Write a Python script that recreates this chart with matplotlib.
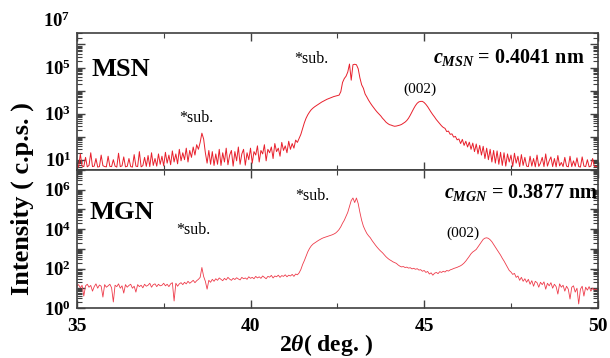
import numpy as np
import matplotlib
matplotlib.use('Agg')
import matplotlib.pyplot as plt
from matplotlib.ticker import MultipleLocator, LogLocator, FuncFormatter, NullFormatter
import matplotlib.transforms as mtrans

plt.rcParams['font.family'] = ['Liberation Serif', 'DejaVu Serif']
plt.rcParams['mathtext.fontset'] = 'custom'
plt.rcParams['mathtext.rm'] = 'Liberation Serif:bold'
plt.rcParams['mathtext.bf'] = 'Liberation Serif:bold'
plt.rcParams['mathtext.it'] = 'Liberation Serif:italic:bold'
plt.rcParams['mathtext.default'] = 'bf'

# 2theta grid (0.05 deg step) and log10 intensities
two_theta = np.round(np.arange(35.0, 50.0001, 0.05), 2)

msn_log = [
    0.70, 0.68, 1.25, 0.72, 0.70, 1.10, 0.69, 0.75, 1.30, 0.70, 0.72, 1.05, 0.68, 0.70, 1.20, 0.74, 0.70, 0.69, 1.15, 0.71,
    0.70, 1.00, 0.72, 0.68, 1.28, 0.70, 0.73, 1.12, 0.69, 0.71, 1.05, 0.70, 0.68, 1.22, 0.72, 0.70, 1.35, 0.69, 0.74, 1.10,
    0.71, 1.18, 0.70, 1.30, 0.75, 1.05, 0.72, 1.25, 0.80, 1.15, 0.73, 1.32, 0.85, 1.20, 0.78, 1.38, 0.90, 1.25, 0.82, 1.45,
    0.95, 1.30, 1.00, 1.50, 0.90, 1.40, 1.10, 1.55, 1.20, 1.65, 1.45, 1.75, 2.15, 1.90, 1.30, 0.85, 1.40, 0.80, 1.35, 0.75,
    1.25, 0.80, 1.45, 0.75, 1.30, 0.90, 1.50, 0.78, 1.20, 1.40, 0.72, 1.35, 0.95, 1.55, 0.80, 1.25, 1.45, 0.76, 1.30, 1.00,
    1.50, 0.85, 1.35, 1.20, 1.60, 0.90, 1.40, 1.25, 1.65, 0.95, 1.45, 1.30, 1.55, 1.05, 1.70, 1.35, 1.50, 1.15, 1.75, 1.40,
    1.60, 1.30, 1.80, 1.45, 1.70, 1.50, 1.85, 1.75, 1.92, 2.10, 2.35, 2.60, 2.80, 2.95, 3.07, 3.17, 3.24, 3.30, 3.35, 3.40,
    3.45, 3.50, 3.54, 3.58, 3.62, 3.65, 3.68, 3.71, 3.74, 3.76, 3.78, 3.80, 3.95, 4.35, 4.52, 4.62, 4.80, 5.15, 4.45, 5.12,
    5.14, 5.12, 4.95, 4.55, 4.25, 4.10, 3.85, 3.72, 3.58, 3.46, 3.35, 3.25, 3.15, 3.06, 2.98, 2.90, 2.80, 2.72, 2.63, 2.57,
    2.52, 2.50, 2.47, 2.45, 2.46, 2.48, 2.50, 2.53, 2.58, 2.63, 2.70, 2.80, 2.93, 3.08, 3.22, 3.35, 3.45, 3.51, 3.53, 3.53,
    3.48, 3.40, 3.30, 3.18, 3.06, 2.95, 2.85, 2.74, 2.65, 2.56, 2.47, 2.40, 2.36, 2.22, 2.24, 2.10, 2.12, 1.98, 2.01, 1.86,
    1.90, 1.70, 1.88, 1.62, 1.80, 1.55, 1.76, 1.45, 1.72, 1.35, 1.68, 1.25, 1.62, 1.20, 1.58, 1.05, 1.50, 1.00, 1.45, 0.90,
    1.40, 0.85, 1.38, 0.80, 1.32, 0.75, 1.30, 0.72, 1.25, 0.90, 1.20, 0.70, 1.28, 0.85, 1.15, 0.70, 1.22, 0.75, 1.10, 0.72,
    0.70, 1.15, 0.72, 1.05, 0.69, 1.20, 0.71, 0.85, 1.10, 0.70, 1.25, 0.72, 0.95, 1.12, 0.70, 1.05, 0.69, 1.18, 0.73, 0.88,
    0.70, 1.10, 0.72, 0.69, 1.15, 0.70, 0.95, 0.71, 1.08, 0.70, 0.68, 1.12, 0.72, 0.70, 1.00, 0.69, 0.72, 1.05, 0.70, 0.70,
    0.71,
]

mgn_log = [
    1.10, 1.18, 1.02, 1.15, 0.60, 1.12, 1.20, 1.05, 1.14, 0.85, 1.08, 1.22, 1.00, 1.16, 1.10, 0.55, 1.18, 1.05, 1.12, 1.20,
    1.02, 0.30, 1.15, 1.08, 1.22, 1.00, 1.12, 0.75, 1.18, 1.05, 1.14, 1.20, 1.00, 1.10, 0.80, 1.18, 1.08, 1.15, 1.02, 1.20,
    1.10, 1.15, 1.25, 1.05, 1.18, 1.22, 1.08, 1.20, 1.12, 1.15, 1.25, 1.12, 1.20, 1.08, 1.22, 1.28, 0.35, 1.25, 1.10, 1.22,
    1.28, 1.18, 1.30, 1.22, 1.35, 1.25, 1.32, 1.40, 1.28, 1.38, 1.45, 1.55, 2.05, 1.60, 1.35, 0.95, 1.40, 1.30, 1.45, 1.35,
    1.48, 1.40, 1.52, 1.45, 1.38, 1.50, 1.42, 1.55, 1.46, 1.40, 1.50, 1.44, 1.53, 1.47, 1.42, 1.55, 1.48, 1.52, 1.45, 1.58,
    1.50, 1.55, 1.48, 1.60, 1.52, 1.58, 1.50, 1.62, 1.55, 1.48, 1.60, 1.56, 1.65, 1.52, 1.62, 1.58, 1.66, 1.55, 1.64, 1.60,
    1.68, 1.58, 1.66, 1.62, 1.70, 1.60, 1.72, 1.68, 1.78, 1.95, 2.20, 2.40, 2.62, 2.85, 3.02, 3.15, 3.24, 3.30, 3.36, 3.42,
    3.47, 3.52, 3.56, 3.59, 3.62, 3.65, 3.68, 3.71, 3.75, 3.80, 3.88, 3.98, 4.12, 4.30, 4.45, 4.65, 4.85, 5.15, 5.45, 5.58,
    5.35, 5.58, 5.30, 4.85, 4.45, 4.15, 3.95, 3.78, 3.66, 3.56, 3.42, 3.30, 3.18, 3.07, 2.97, 2.88, 2.80, 2.70, 2.60, 2.52,
    2.45, 2.40, 2.34, 2.30, 2.26, 2.18, 2.12, 2.08, 2.10, 2.05, 2.07, 2.02, 2.04, 1.98, 2.01, 1.96, 1.99, 1.92, 1.94, 1.86,
    1.90, 1.80, 1.85, 1.72, 1.78, 1.66, 1.76, 1.80, 1.74, 1.84, 1.80, 1.86, 1.82, 1.90, 1.87, 1.93, 1.96, 2.00, 2.03, 2.06,
    2.10, 2.14, 2.20, 2.28, 2.38, 2.50, 2.62, 2.75, 2.84, 2.90, 2.97, 3.10, 3.24, 3.37, 3.48, 3.54, 3.56, 3.53, 3.46, 3.36,
    3.22, 3.08, 2.95, 2.82, 2.68, 2.52, 2.38, 2.22, 2.05, 1.90, 1.82, 1.70, 1.75, 1.55, 1.62, 1.40, 1.55, 1.35, 1.48, 1.30,
    1.45, 1.20, 1.38, 1.10, 1.35, 1.28, 1.05, 1.30, 1.18, 1.32, 0.95, 1.25, 1.12, 1.28, 1.00, 1.20, 1.08, 0.70, 1.22, 1.05,
    1.15, 0.85, 1.10, 0.95, 0.45, 1.05, 1.12, 0.80, 1.00, 0.20, 0.95, 1.10, 0.60, 1.05, 0.90, 1.08, 0.85, 1.00, 0.92, 0.95,
    0.90,
]

msn = 10 ** np.array(msn_log)
mgn = 10 ** np.array(mgn_log)

fig = plt.figure(figsize=(6.1, 3.58), dpi=100)
ax1 = fig.add_axes([0.126, 0.525, 0.854, 0.383])
ax2 = fig.add_axes([0.126, 0.140, 0.854, 0.385], sharex=ax1)

ax1.plot(two_theta, msn, color='#e8202c', lw=0.7)
ax2.plot(two_theta, mgn, color='#ee3b4a', lw=0.6)

frame_col = '#404040'


def log_fmt(keep):
    def f(v, pos):
        e = int(round(np.log10(v)))
        if e in keep:
            return r'$\mathbf{10^{%d}}$' % e
        return ''
    return FuncFormatter(f)


for ax in (ax1, ax2):
    ax.set_yscale('log')
    ax.set_xlim(35, 50)
    ax.yaxis.set_major_locator(LogLocator(base=10, numticks=20))
    ax.yaxis.set_minor_locator(LogLocator(base=10, subs=np.arange(2, 10), numticks=20))
    ax.yaxis.set_minor_formatter(NullFormatter())
    ax.xaxis.set_major_locator(MultipleLocator(5))
    ax.xaxis.set_minor_locator(MultipleLocator(2.5))
    ax.tick_params(which='both', direction='in', top=True, right=True, color=frame_col)
    ax.tick_params(which='major', length=6, width=1.0)
    ax.tick_params(which='minor', length=3.5, width=0.8)
    ax.tick_params(axis='y', labelsize=13.5, pad=4)
    ax.tick_params(axis='x', labelsize=14, pad=7)
    for s in ax.spines.values():
        s.set_color(frame_col)
        s.set_linewidth(1.2)

ax1.set_ylim(10 ** 0.55, 10 ** 6.5)
ax2.set_ylim(1, 1e7)
ax1.yaxis.set_major_formatter(log_fmt([1, 3, 5]))
ax2.yaxis.set_major_formatter(log_fmt([0, 2, 4, 6]))
ax1.tick_params(axis='x', labelbottom=False)
ax2.set_xticks([35, 40, 45, 50])
ax2.set_xticklabels(['35', '40', '45', '50'], fontweight='bold')

# 10^7 label sits just above the top frame
tr = mtrans.blended_transform_factory(ax1.transAxes, ax1.transData)
ax1.text(-0.012, 1e7, r'$\mathbf{10^{7}}$', transform=tr, ha='right', va='center',
         fontsize=13.5, clip_on=False)

# panel annotations
ax1.text(0.029, 0.73, 'MSN', transform=ax1.transAxes, fontsize=19, fontweight='bold', va='center')
ax2.text(0.025, 0.69, 'MGN', transform=ax2.transAxes, fontsize=19, fontweight='bold', va='center')
ax1.text(0.975, 0.82, r'$\mathit{c}_{\mathit{MSN}}$ = 0.4041 nm', transform=ax1.transAxes,
         fontsize=14.5, fontweight='bold', ha='right', va='center')
ax2.text(1.0, 0.835, r'$\mathit{c}_{\mathit{MGN}}$ = 0.3877 nm', transform=ax2.transAxes,
         fontsize=14.5, fontweight='bold', ha='right', va='center')

ax1.text(38.45, 10 ** 2.83, '*sub.', fontsize=11.5, ha='center', va='center')
ax1.text(41.74, 10 ** 5.35, '*sub.', fontsize=11.5, ha='center', va='center')
ax1.text(44.88, 10 ** 4.04, '(002)', fontsize=11, ha='center', va='center')
ax2.text(38.34, 10 ** 3.96, '*sub.', fontsize=11.5, ha='center', va='center')
ax2.text(41.77, 10 ** 5.69, '*sub.', fontsize=11.5, ha='center', va='center')
ax2.text(46.11, 10 ** 3.81, '(002)', fontsize=11, ha='center', va='center')

fig.text(0.036, 0.446, 'Intensity ( c.p.s. )', rotation=90, fontsize=19, fontweight='bold',
         ha='center', va='center')
fig.text(0.535, 0.036, r'$\mathit{2θ}$( deg. )', fontsize=17, fontweight='bold',
         ha='center', va='center')

fig.savefig('out.png', dpi=100)
